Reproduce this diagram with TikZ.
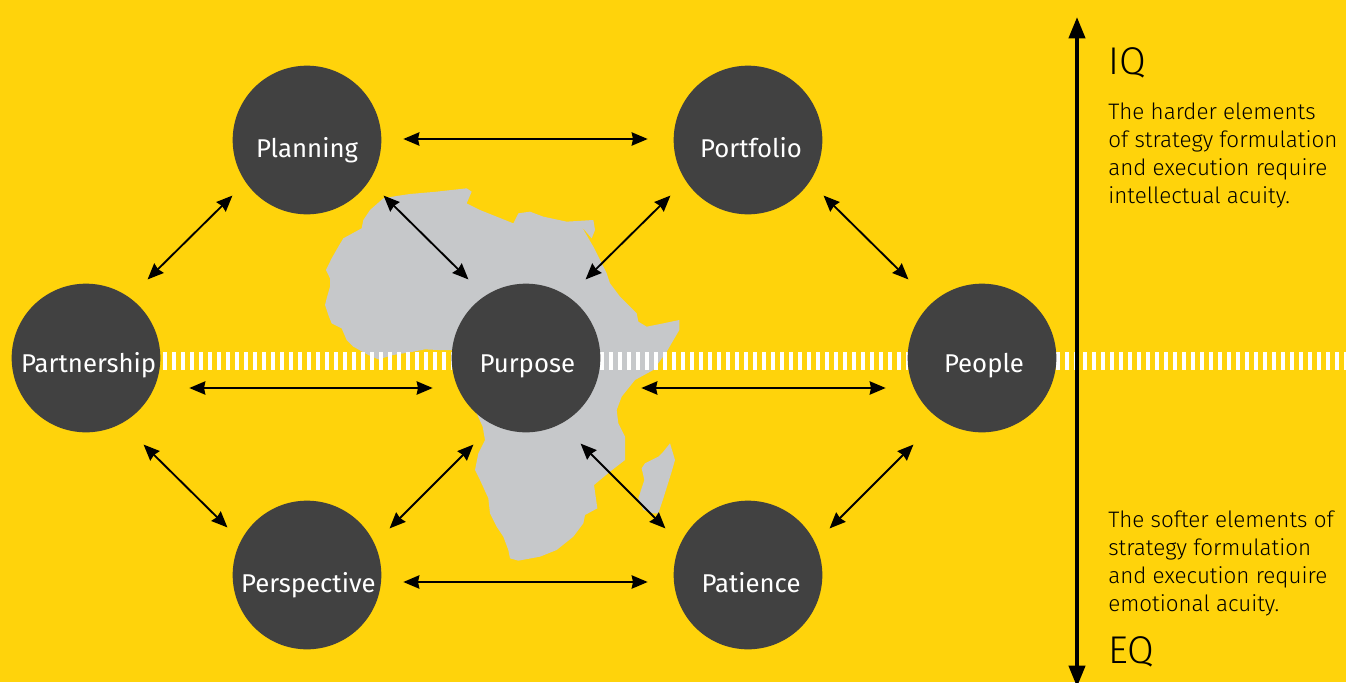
\documentclass[tikz,border=0pt]{standalone}
\usepackage{fontspec}
\setmainfont{Fira Sans}
\newfontfamily\lightfont{Fira Sans Light}
\usepackage{xcolor}
\usetikzlibrary{arrows.meta,backgrounds}
\definecolor{eyyellow}{HTML}{FFD30B}
\definecolor{eydark}{HTML}{414141}
\definecolor{eygrey}{HTML}{C6C8CA}
\tikzset{
  circ/.style={circle, fill=eydark, minimum size=111.5pt, inner sep=0pt, outer sep=0pt,
    text=white, text height=26pt, text depth=0pt, font=\fontsize{19.3pt}{22pt}\selectfont},
  midcirc/.style={circ, text height=21pt},
  link/.style={{Stealth[length=12pt,width=10pt,inset=1pt]}-{Stealth[length=12pt,width=10pt,inset=1pt]}, line width=1.4pt, black},
  ticks/.style={draw=white, line width=13.5pt, dash pattern=on 2.4pt off 4.35pt},
  axis/.style={{Stealth[length=16pt,width=12pt,inset=0pt]}-{Stealth[length=16pt,width=12pt,inset=0pt]}, line width=3pt, black},
  iqlabel/.style={anchor=west, inner sep=0pt, font=\lightfont\fontsize{29pt}{30pt}\selectfont},
  blurb/.style={anchor=north west, align=left, inner sep=0pt, font=\lightfont\fontsize{16.8pt}{21pt}\selectfont},
}
\begin{document}
\begin{tikzpicture}[x=0.75pt,y=-0.75pt]
    \useasboundingbox (0,0) rectangle (1346,682);
    % the seven circles
    \node[circ] (planning) at (307,140) {Planning};
    \node[circ] (portfolio) at (748,140) {\hspace{4.5pt}Portfolio};
    \node[midcirc] (partnership) at (86,358) {\hspace{4pt}Partnership};
    \node[midcirc] (purpose) at (526,358) {\hspace{2pt}Purpose};
    \node[midcirc] (people) at (982,358) {\hspace{3pt}People};
    \node[circ] (perspective) at (307,575) {\hspace{2pt}Perspective};
    \node[circ] (patience) at (748,575) {\hspace{4.5pt}Patience};
    \coordinate (tickend) at (1346,361);
    \coordinate (axistop) at (1077,17);
    \coordinate (axisbot) at (1077,687);
    \begin{pgfonlayer}{background}
      \fill[eyyellow] (0,0) rectangle (1346,682);
      % map, traced in a 3x grid
      \begin{scope}[shift={(310,170)},x=0.25pt,y=-0.25pt]
        \fill[eygrey] (220,85) -- (260,78) -- (300,72) -- (380,65) -- (470,55) -- (485,65) -- (470,100)
          -- (510,120) -- (560,140) -- (610,160) -- (625,130) -- (660,125) -- (700,140)
          -- (770,155) -- (850,150) -- (855,180) -- (845,205) -- (815,170) -- (850,230)
          -- (890,310) -- (900,340) -- (930,380) -- (980,430) -- (985,455) -- (1010,470)
          -- (1060,460) -- (1108,450) -- (1108,480) -- (1070,545) -- (1030,600) -- (975,630)
          -- (935,680) -- (920,720) -- (925,760) -- (945,800) -- (945,870) -- (900,905)
          -- (852,945) -- (862,1015) -- (825,1035) -- (820,1060) -- (790,1100) -- (740,1140)
          -- (690,1160) -- (625,1172) -- (600,1165) -- (595,1140) -- (580,1100) -- (560,1070)
          -- (540,1030) -- (535,985) -- (510,930) -- (495,900) -- (505,850) -- (525,810)
          -- (518,770) -- (500,730) -- (425,540) -- (385,540) -- (345,538) -- (310,545)
          -- (250,555) -- (205,568) -- (175,555) -- (130,530) -- (110,510) -- (95,475)
          -- (65,460) -- (55,435) -- (45,405) -- (50,385) -- (60,350) -- (60,325) -- (48,300)
          -- (65,265) -- (85,230) -- (100,205) -- (155,175) -- (160,150) -- (180,120) -- cycle;
        \fill[eygrey] (1080,820) -- (1095,870) -- (1085,905) -- (1060,985) -- (1045,1030)
          -- (1030,1030) -- (1000,1020) -- (985,985) -- (1003,930) -- (995,895) -- (1005,880)
          -- (1045,860) -- (1060,845) -- cycle;
      \end{scope}
      \draw[ticks] ([shift={(3,3)}]partnership.east) -- ([shift={(0,3)}]purpose.west);
      \draw[ticks] ([shift={(0,3)}]purpose.east) -- ([shift={(0,3)}]people.west);
      \draw[ticks] ([shift={(0,3)}]people.east) -- (tickend);
    \end{pgfonlayer}
    % connectors
    \draw[link] ([shift={(22,-1)}]planning.east) -- ([shift={(-26,-1)}]portfolio.west);
    \draw[link] ([shift={(-22,3)}]planning.south west) -- ([shift={(9,-26)}]partnership.north east);
    \draw[link] ([shift={(24,3)}]planning.south east) -- ([shift={(-5,-26)}]purpose.north west);
    \draw[link] ([shift={(-25,3)}]portfolio.south west) -- ([shift={(7,-26)}]purpose.north east);
    \draw[link] ([shift={(23,3)}]portfolio.south east) -- ([shift={(-21,-26)}]people.north west);
    \draw[link] ([shift={(29,30)}]partnership.east) -- ([shift={(-19,30)}]purpose.west);
    \draw[link] ([shift={(41,30)}]purpose.east) -- ([shift={(-22,30)}]people.west);
    \draw[link] ([shift={(5,34)}]partnership.south east) -- ([shift={(-27,5)}]perspective.north west);
    \draw[link] ([shift={(30,6)}]perspective.north east) -- ([shift={(0,34)}]purpose.south west);
    \draw[link] ([shift={(2,33)}]purpose.south east) -- ([shift={(-30,6)}]patience.north west);
    \draw[link] ([shift={(29,6)}]patience.north east) -- ([shift={(-16,34)}]people.south west);
    \draw[link] ([shift={(22,7)}]perspective.east) -- ([shift={(-26,7)}]patience.west);
    \draw[axis] (axistop) -- (axisbot);
    % right column
    \node[iqlabel] (iq) at (1108,63) {IQ};
    \node[blurb] (hard) at (1108,103) {The harder elements\\of strategy formulation\\and execution require\\intellectual acuity.};
    \node[blurb] (soft) at (1108,511) {The softer elements of\\strategy formulation\\and execution require\\emotional acuity.};
    \node[iqlabel] (eq) at (1108,652) {EQ};
\end{tikzpicture}
\end{document}
